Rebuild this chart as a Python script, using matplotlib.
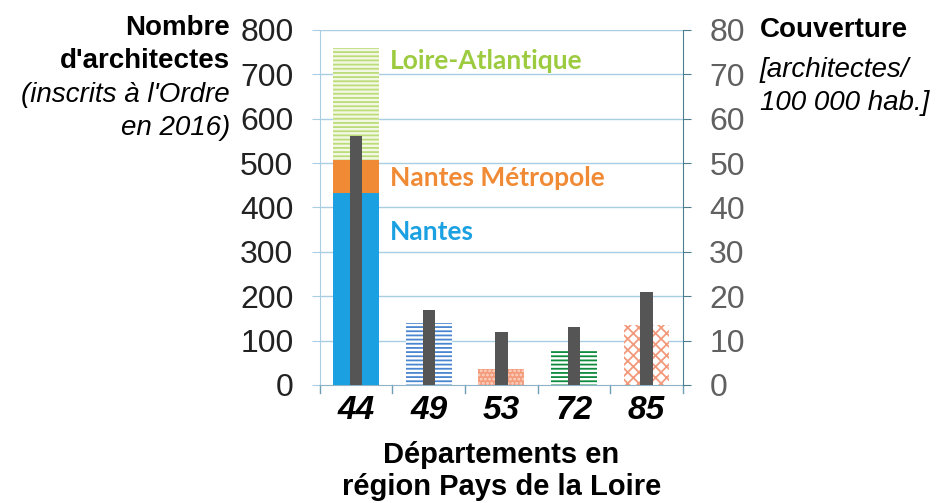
import matplotlib
matplotlib.use("Agg")
import matplotlib.pyplot as plt
import numpy as np

plt.rcParams['font.family'] = ['Liberation Sans', 'DejaVu Sans']
plt.rcParams['hatch.linewidth'] = 1.3

departements = ['44', '49', '53', '72', '85']
nantes = [432]
nantes_metropole = [507]
loire_atlantique = [759]
autres_depts = [140, 35, 78, 135]
couverture = [56, 17, 12, 13, 21]

fig = plt.figure(figsize=(9.38, 5.03), dpi=100)
ax = fig.add_axes([0.341, 0.2346, 0.387, 0.7058])
ax2 = ax.twinx()

x = np.arange(len(departements))
wide = 0.63
narrow = 0.17

grid_c = '#a9cde3'
ax.set_ylim(0, 800)
ax.set_xlim(-0.5, 4.5)
ax.set_yticks(range(0, 801, 100))
for v in range(100, 801, 100):
    ax.axhline(v, color=grid_c, lw=1.0, zorder=0)

# 44 stacked
ax.bar(x[0], loire_atlantique[0], width=wide, facecolor='#f3f8e4', edgecolor='#bcdc7a',
       hatch='----', linewidth=0, zorder=2)
ax.bar(x[0], nantes_metropole[0], width=wide, color='#f08a34', linewidth=0, zorder=3)
ax.bar(x[0], nantes[0], width=wide, color='#1ba1e2', linewidth=0, zorder=4)

styles = [
    dict(facecolor='white', edgecolor='#4a86d0', hatch='----'),
    dict(facecolor='#f39b7b', edgecolor='#fbd5c6', hatch='....'),
    dict(facecolor='white', edgecolor='#0d8a3c', hatch='----'),
    dict(facecolor='white', edgecolor='#f29a7c', hatch='xxx'),
]
for i, val in enumerate(autres_depts):
    ax.bar(x[i + 1], val, width=wide, linewidth=0, zorder=2, **styles[i])

ax2.set_ylim(0, 80)
ax2.set_yticks(range(0, 81, 10))
ax2.bar(x, couverture, width=narrow, color='#555555', linewidth=0, zorder=5)

ax.set_xticks(x)
ax.set_xticklabels(departements, fontsize=24, fontweight='bold', fontstyle='italic')
ax.tick_params(axis='x', length=0, pad=7)
for b in np.arange(-0.5, 4.6, 1.0):
    ax.plot([b, b], [0, -0.022], transform=ax.get_xaxis_transform(), color='#6f9fb5',
            lw=1, clip_on=False)

ax.tick_params(axis='y', labelsize=23, colors='#222222', length=6, color=grid_c, pad=13)
ax2.tick_params(axis='y', labelsize=23, labelcolor='#606060', length=6, color='#4b7f8f', pad=13)

for s in ['top']:
    ax.spines[s].set_visible(False)
    ax2.spines[s].set_visible(False)
ax2.spines['left'].set_visible(False)
ax2.spines['bottom'].set_visible(False)
ax.spines['right'].set_visible(False)
ax.spines['left'].set_color(grid_c)
ax.spines['bottom'].set_color('#8fb3c6')
ax2.spines['right'].set_color('#4b7f8f')

fig.text(0.5 * (320 + 683) / 938, 1 - 455 / 503, 'Départements en', ha='center',
         va='center', fontsize=21, fontweight='bold')
fig.text(0.5 * (320 + 683) / 938, 1 - 487 / 503, 'région Pays de la Loire', ha='center',
         va='center', fontsize=21, fontweight='bold')

# inner labels
lab_font = ['Lato', 'DejaVu Sans']
ax.text(0.46, 730, 'Loire-Atlantique', color='#9ccb3f', fontsize=19, fontweight='bold',
        family=lab_font, va='center')
ax.text(0.46, 467, 'Nantes Métropole', color='#f08a34', fontsize=19, fontweight='bold',
        family=lab_font, va='center')
ax.text(0.46, 344, 'Nantes', color='#1ba1e2', fontsize=19, fontweight='bold',
        family=lab_font, va='center')

# left title
fig.text(230 / 938, 1 - 28 / 503, 'Nombre', ha='right', va='center', fontsize=20,
         fontweight='bold')
fig.text(230 / 938, 1 - 61 / 503, "d'architectes", ha='right', va='center', fontsize=20,
         fontweight='bold')
fig.text(230 / 938, 1 - 95 / 503, "(inscrits à l'Ordre", ha='right', va='center',
         fontsize=20, fontstyle='italic')
fig.text(230 / 938, 1 - 128 / 503, 'en 2016)', ha='right', va='center', fontsize=20,
         fontstyle='italic')

# right title
fig.text(760 / 938, 1 - 30 / 503, 'Couverture', ha='left', va='center', fontsize=20,
         fontweight='bold')
fig.text(760 / 938, 1 - 70 / 503, '[architectes/', ha='left', va='center', fontsize=20,
         fontstyle='italic')
fig.text(760 / 938, 1 - 103 / 503, '100 000 hab.]', ha='left', va='center', fontsize=20,
         fontstyle='italic')

fig.savefig('out.png', dpi=100)
